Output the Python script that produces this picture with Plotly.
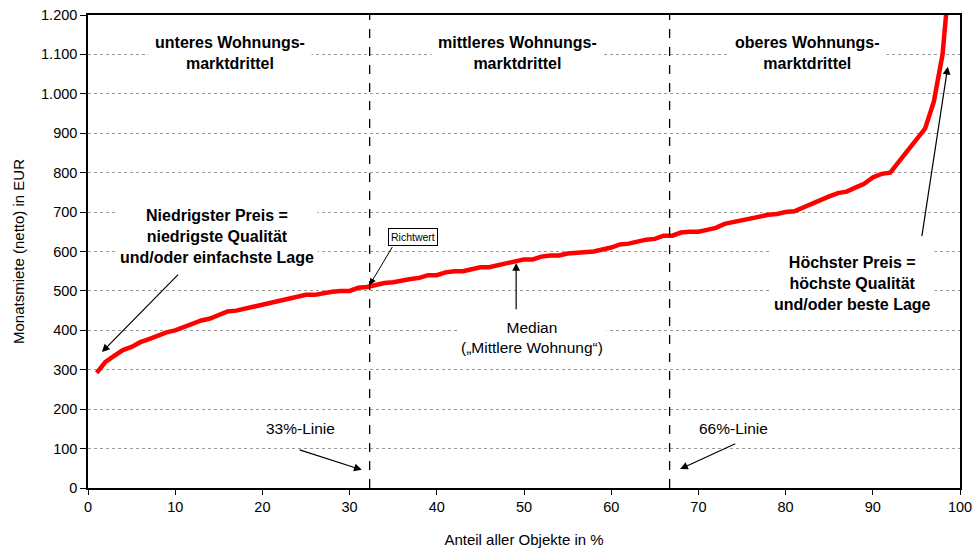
import plotly.graph_objects as go

anteil = list(range(1, 100))
miete = [292, 320, 335, 350, 358, 370, 378, 388, 395, 400,
         408, 418, 425, 430, 440, 448, 450, 455, 460, 467,
         470, 475, 480, 485, 490, 490, 495, 498, 500, 500,
         508, 510, 515, 520, 522, 527, 530, 533, 540, 540,
         547, 550, 550, 555, 560, 560, 565, 570, 575, 580,
         580, 587, 590, 590, 595, 597, 600, 600, 605, 610,
         618, 620, 625, 630, 632, 640, 640, 648, 650, 650,
         655, 660, 670, 675, 680, 683, 690, 693, 695, 700,
         702, 712, 720, 730, 740, 748, 752, 762, 772, 788,
         797, 800, 828, 855, 885, 912, 980, 1100, 1350]

linie33 = 32.3
linie66 = 66.7

FONT = "Arial, Liberation Sans, sans-serif"

fig = go.Figure()
fig.add_trace(go.Scatter(x=anteil, y=miete, mode="lines",
                         line=dict(color="#ff0000", width=4.5),
                         showlegend=False, hoverinfo="skip"))

for xv in (linie33, linie66):
    fig.add_shape(type="line", x0=xv, x1=xv, y0=0, y1=1200, xref="x", yref="y",
                  line=dict(color="black", width=1.3, dash="dash"))

bold = dict(family=FONT, size=16, color="black")
for txt, xv in [("<b>unteres Wohnungs-<br>marktdrittel</b>", 16.3),
                ("<b>mittleres Wohnungs-<br>marktdrittel</b>", 49.3),
                ("<b>oberes Wohnungs-<br>marktdrittel</b>", 82.5)]:
    fig.add_annotation(x=xv, y=1104, text=txt, showarrow=False, font=bold,
                       bgcolor="white", borderpad=6)

fig.add_annotation(x=14.85, y=637, text="<b>Niedrigster Preis =<br>niedrigste Qualität<br>und/oder einfachste Lage</b>",
                   showarrow=False, font=bold, bgcolor="white", borderpad=3)
fig.add_annotation(x=1.6, y=345, ax=10.5, ay=545, xref="x", yref="y", axref="x", ayref="y",
                   text="", showarrow=True, arrowhead=2, arrowsize=1.3, arrowwidth=1.2, arrowcolor="black")

fig.add_annotation(x=87.7, y=518, text="<b>Höchster Preis =<br>höchste Qualität<br>und/oder beste Lage</b>",
                   showarrow=False, font=bold, bgcolor="white", borderpad=3)
fig.add_annotation(x=98.6, y=1069, ax=95.6, ay=635, xref="x", yref="y", axref="x", ayref="y",
                   text="", showarrow=True, arrowhead=2, arrowsize=1.3, arrowwidth=1.2, arrowcolor="black")

fig.add_annotation(x=37.3, y=637, text="Richtwert", showarrow=False,
                   font=dict(family=FONT, size=10.5, color="black"),
                   bgcolor="white", bordercolor="black", borderwidth=1, borderpad=2)
fig.add_annotation(x=32.3, y=515, ax=35.0, ay=615, xref="x", yref="y", axref="x", ayref="y",
                   text="", showarrow=True, arrowhead=2, arrowsize=1.3, arrowwidth=1, arrowcolor="black")

reg = dict(family=FONT, size=15.5, color="black")
fig.add_annotation(x=50.9, y=383, text="Median<br>(„Mittlere Wohnung“)", showarrow=False,
                   font=reg, bgcolor="white", borderpad=3)
fig.add_annotation(x=49.1, y=571, ax=49.1, ay=450, xref="x", yref="y", axref="x", ayref="y",
                   text="", showarrow=True, arrowhead=2, arrowsize=1.3, arrowwidth=1.2, arrowcolor="black")

fig.add_annotation(x=24.4, y=152, text="33%-Linie", showarrow=False, font=reg,
                   bgcolor="white", borderpad=3)
fig.add_annotation(x=31.4, y=46, ax=24.1, ay=98, xref="x", yref="y", axref="x", ayref="y",
                   text="", showarrow=True, arrowhead=2, arrowsize=1.3, arrowwidth=1.2, arrowcolor="black")

fig.add_annotation(x=74.0, y=152, text="66%-Linie", showarrow=False, font=reg,
                   bgcolor="white", borderpad=3)
fig.add_annotation(x=67.9, y=48, ax=74.4, ay=114, xref="x", yref="y", axref="x", ayref="y",
                   text="", showarrow=True, arrowhead=2, arrowsize=1.3, arrowwidth=1.2, arrowcolor="black")

fig.update_layout(
    width=975, height=552,
    margin=dict(l=88, r=15, t=15, b=64),
    paper_bgcolor="white", plot_bgcolor="white",
    separators=",.",
    font=dict(family=FONT, size=14.5, color="black"),
    xaxis=dict(range=[0, 100], dtick=10, tick0=0, showgrid=False, zeroline=False,
               showline=True, linecolor="black", linewidth=1.5, mirror=True,
               ticks="outside", ticklen=5, tickcolor="black", automargin=False,
               title=dict(text="Anteil aller Objekte in %", font=dict(size=15), standoff=20)),
    yaxis=dict(range=[0, 1200], dtick=100, tick0=0, tickformat=",d",
               showgrid=True, gridcolor="#9a9a9a", griddash="dot", gridwidth=1,
               zeroline=False, showline=True, linecolor="black", linewidth=1.5, mirror=True,
               ticks="outside", ticklen=6, tickcolor="black", automargin=False,
               title=dict(text="Monatsmiete (netto) in EUR", font=dict(size=15), standoff=13)),
)

fig.write_html("out.html", config={"displayModeBar": False},
               post_script="document.body.style.margin='0';")
